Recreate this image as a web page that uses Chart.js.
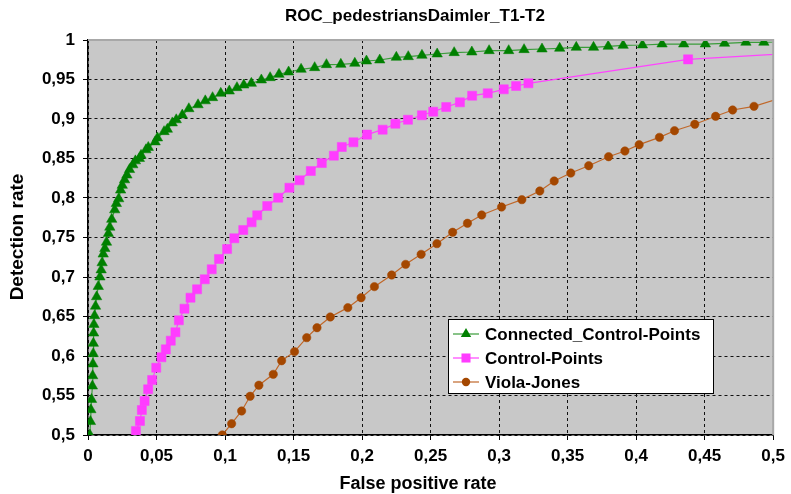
<!DOCTYPE html>
<html>
<head>
<meta charset="utf-8">
<script src="https://cdn.jsdelivr.net/npm/chart.js@4.4.1/dist/chart.umd.min.js"></script>
<style>
html,body{margin:0;padding:0;background:#fff;}
#wrap{width:791px;height:494px;}
</style>
</head>
<body>
<div id="wrap"><canvas id="roc" width="791" height="494"></canvas></div>
<script>
// values
const seriesNames = ["Connected_Control-Points", "Control-Points", "Viola-Jones"];

const ccpX = [0.0014,0.0018,0.0021,0.0026,0.0032,0.0034,0.0036,0.0038,0.0039,0.0041,
  0.0043,0.0048,0.0055,0.0063,0.0075,0.0087,0.0096,0.0103,0.0111,0.0123,
  0.0135,0.0149,0.0159,0.0173,0.0195,0.0207,0.0224,0.0238,0.025,0.0267,
  0.0284,0.0303,0.0327,0.0346,0.0375,0.0387,0.0423,0.044,0.049,0.0507,
  0.0555,0.0579,0.0615,0.0644,0.0688,0.0736,0.0803,0.0856,0.0909,0.0969,
  0.1031,0.1087,0.1137,0.1192,0.1265,0.1329,0.1394,0.1464,0.1555,0.1654,
  0.174,0.1845,0.1947,0.2032,0.2129,0.225,0.2337,0.2437,0.2548,0.2672,
  0.2801,0.2927,0.307,0.3182,0.3313,0.3442,0.3563,0.3689,0.3796,0.3905,
  0.4046,0.4189,0.4347,0.4505,0.4645,0.4801,0.4932,0.55];
const ccpY = [0.5,0.517,0.532,0.545,0.562,0.575,0.590,0.603,0.616,0.629,
  0.640,0.651,0.663,0.675,0.688,0.700,0.709,0.718,0.729,0.736,
  0.744,0.755,0.763,0.773,0.785,0.793,0.799,0.810,0.816,0.823,
  0.829,0.836,0.842,0.847,0.850,0.854,0.861,0.864,0.871,0.876,
  0.884,0.887,0.895,0.899,0.905,0.913,0.918,0.923,0.927,0.9325,
  0.9354,0.9397,0.943,0.9451,0.9494,0.9523,0.9565,0.9595,0.9629,0.965,
  0.9688,0.9692,0.9705,0.9734,0.9747,0.9781,0.9789,0.9806,0.9823,0.984,
  0.9848,0.9865,0.9865,0.9878,0.9886,0.9895,0.9907,0.9907,0.992,0.9932,
  0.9937,0.9949,0.9949,0.9949,0.9958,0.9971,0.9971,1.0];

const cpX = [0.035,0.0379,0.0393,0.0413,0.0439,0.0468,0.0498,0.0536,0.0568,0.0604,
  0.0638,0.0663,0.0704,0.0748,0.0796,0.0852,0.0903,0.0956,0.1015,0.1068,
  0.1133,0.1194,0.1235,0.1308,0.1388,0.147,0.1544,0.1626,0.1706,0.1794,
  0.1852,0.1937,0.2036,0.215,0.2243,0.2335,0.2437,0.2519,0.2614,0.2714,
  0.2803,0.2917,0.3034,0.3124,0.3214,0.4379,0.56];
const cpY = [0.5051,0.5177,0.5316,0.543,0.5578,0.5696,0.5852,0.5983,0.6084,0.6194,
  0.63,0.6452,0.6599,0.6738,0.6844,0.6971,0.7097,0.7228,0.7354,0.749,
  0.7595,0.7692,0.7781,0.7899,0.8004,0.813,0.8224,0.8342,0.8443,0.8536,
  0.8646,0.8705,0.8802,0.8865,0.894,0.899,0.9047,0.9093,0.9152,0.9211,
  0.9295,0.9325,0.9376,0.9418,0.9452,0.9755,0.988];

const vjX = [0.098,0.1048,0.1121,0.1183,0.1247,0.1352,0.1413,0.1507,0.1596,0.1671,
  0.1768,0.1896,0.1993,0.209,0.2216,0.2318,0.2431,0.2546,0.2661,0.2769,
  0.2873,0.3018,0.3166,0.3297,0.3402,0.3523,0.3654,0.3799,0.3918,0.4022,
  0.417,0.428,0.4428,0.458,0.4704,0.486,0.53];
const vjY = [0.5,0.5143,0.5304,0.549,0.563,0.5768,0.594,0.6055,0.6232,0.6358,
  0.6494,0.6612,0.6738,0.6878,0.7025,0.716,0.7287,0.7422,0.7566,0.768,
  0.7785,0.7886,0.7979,0.8089,0.8215,0.8316,0.8409,0.8523,0.8595,0.8675,
  0.8768,0.8852,0.8933,0.9034,0.9114,0.916,0.94];

const xTicks = [0,0.05,0.1,0.15,0.2,0.25,0.3,0.35,0.4,0.45,0.5];
const yTicks = [0.5,0.55,0.6,0.65,0.7,0.75,0.8,0.85,0.9,0.95,1];

const FONT = "'Liberation Sans', Arial, sans-serif";

function pairs(xs, ys){
    return xs.map((x,i)=>({x:x, y:ys[i]}));
}

function fmt(v){
    return (Math.round(v*100)/100).toString().replace(".", ",");
}

const styles = [
    {line:"#3a9c3a", fill:"#008000", shape:"triangle", r:6},
    {line:"#ff44ff", fill:"#ff3cff", shape:"rect", r:6.4},
    {line:"#c0682a", fill:"#a44700", shape:"circle", r:4.2}
];

function gridColor(max){
    return (ctx)=> (ctx.tick && Math.abs(ctx.tick.value-max) < 1e-9) ? "rgba(0,0,0,0)" : "#111";
}

function drawMarker(ctx, shape, x, y, r, color){
    ctx.fillStyle=color;
    ctx.beginPath();
    if(shape==="triangle"){
        ctx.moveTo(x, y-r);
        ctx.lineTo(x+r*0.866, y+r*0.5);
        ctx.lineTo(x-r*0.866, y+r*0.5);
        ctx.closePath();
    }else if(shape==="rect"){
        const s=r*Math.SQRT1_2;
        ctx.rect(x-s, y-s, 2*s, 2*s);
    }else{
        ctx.arc(x, y, r, 0, Math.PI*2);
    }
    ctx.fill();
}

const excelLook = {
    id:"excelLook",
    beforeDraw(chart){
        const {ctx, chartArea:a} = chart;
        ctx.save();
        ctx.fillStyle="#c8c8c8";
        ctx.fillRect(a.left, a.top, a.width, a.height);
        ctx.restore();
    },
    afterDraw(chart){
        const {ctx, chartArea:a} = chart;
        ctx.save();
        // top and right frame
        ctx.strokeStyle="#a8a8a8";
        ctx.lineWidth=2;
        ctx.beginPath();
        ctx.moveTo(a.left, a.top);
        ctx.lineTo(a.right, a.top);
        ctx.lineTo(a.right, a.bottom);
        ctx.stroke();

        // titles
        ctx.fillStyle="#000";
        ctx.textAlign="center";
        ctx.textBaseline="middle";
        ctx.font="bold 17px "+FONT;
        ctx.fillText("ROC_pedestriansDaimler_T1-T2", 415, 16);
        ctx.font="bold 18px "+FONT;
        ctx.fillText("False positive rate", 418, 484);
        ctx.save();
        ctx.translate(18, 237);
        ctx.rotate(-Math.PI/2);
        ctx.font="bold 19px "+FONT;
        ctx.fillText("Detection rate", 0, 0);
        ctx.restore();

        // legend
        const lx=448, ly=319, lw=265, lh=74;
        ctx.fillStyle="#fff";
        ctx.fillRect(lx, ly, lw, lh);
        ctx.strokeStyle="#000";
        ctx.lineWidth=1;
        ctx.strokeRect(lx+0.5, ly+0.5, lw, lh);
        ctx.font="bold 17px "+FONT;
        ctx.textAlign="left";
        seriesNames.forEach((name,i)=>{
            const y=ly+15+i*24;
            const st=styles[i];
            ctx.strokeStyle=st.line;
            ctx.lineWidth=1.2;
            ctx.beginPath();
            ctx.moveTo(lx+5, y);
            ctx.lineTo(lx+31, y);
            ctx.stroke();
            drawMarker(ctx, st.shape, lx+18, y, st.r, st.fill);
            ctx.fillStyle="#000";
            ctx.fillText(name, lx+37, y+1);
        });
        ctx.restore();
    }
};

const rawSeries = [[ccpX, ccpY], [cpX, cpY], [vjX, vjY]];

new Chart(document.getElementById("roc"),{
    type:"scatter",
    data:{
        datasets: rawSeries.map((s,i)=>({
            label: seriesNames[i],
            data: pairs(s[0], s[1]),
            showLine:true,
            borderColor: styles[i].line,
            borderWidth:1.2,
            pointStyle: styles[i].shape,
            pointRadius: styles[i].r,
            pointBackgroundColor: styles[i].fill,
            pointBorderColor: styles[i].fill,
            pointBorderWidth:0.5,
            tension:0,
            fill:false
        }))
    },
    options:{
        responsive:false,
        animation:false,
        layout:{padding:{top:40, right:16, left:0, bottom:0}},
        plugins:{
            legend:{display:false},
            tooltip:{enabled:false},
            title:{display:false}
        },
        scales:{
            x:{
                type:"linear",
                min:xTicks[0],
                max:xTicks[xTicks.length-1],
                afterBuildTicks(scale){ scale.ticks = xTicks.map(v=>({value:v})); },
                afterFit(scale){ scale.height = 59; },
                ticks:{
                    callback:(v)=>fmt(v),
                    color:"#000",
                    font:{family:FONT, size:17, weight:"bold"},
                    padding:6,
                    maxRotation:0,
                    autoSkip:false
                },
                grid:{
                    color:gridColor(0.5),
                    tickBorderDash:[],
                    tickColor:"#000",
                    tickLength:5,
                    lineWidth:1
                },
                border:{color:"#000", width:1.5, dash:[3,3]}
            },
            y:{
                type:"linear",
                min:yTicks[0],
                max:yTicks[yTicks.length-1],
                afterBuildTicks(scale){ scale.ticks = yTicks.map(v=>({value:v})); },
                afterFit(scale){ scale.width = 88; },
                ticks:{
                    callback:(v)=>fmt(v),
                    color:"#000",
                    font:{family:FONT, size:17, weight:"bold"},
                    padding:8,
                    autoSkip:false
                },
                grid:{
                    color:gridColor(1),
                    tickBorderDash:[],
                    tickColor:"#000",
                    tickLength:5,
                    lineWidth:1
                },
                border:{color:"#000", width:1.5, dash:[3,3]}
            }
        }
    },
    plugins:[excelLook]
});
</script>
</body>
</html>
